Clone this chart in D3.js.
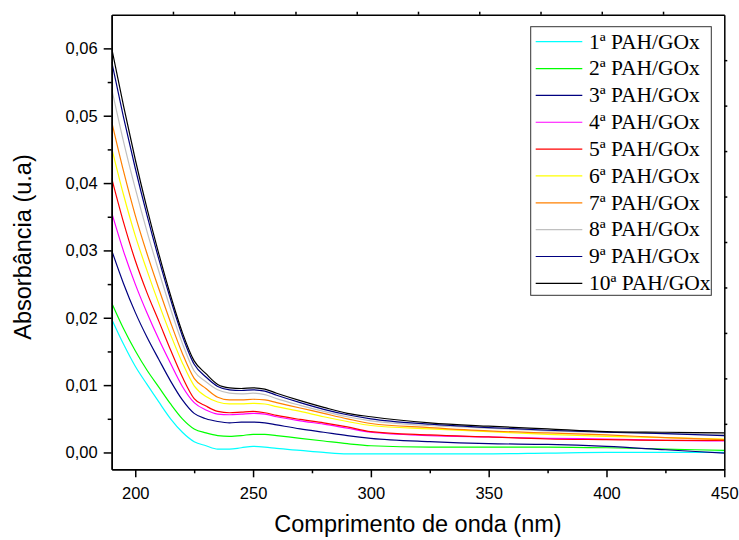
<!DOCTYPE html>
<html>
<head>
<meta charset="utf-8">
<script src="https://cdn.jsdelivr.net/npm/d3@7"></script>
<style>
  html, body { margin: 0; padding: 0; background: #ffffff; }
  svg { display: block; }
</style>
</head>
<body>
<svg id="chart" width="739" height="540"></svg>
<script>
// ---------- data ----------
const wavelengths = [190,195,200,205,210,215,220,225,230,235,240,245,250,255,260,270,280,290,300,325,350,375,400,425,450];

const pahGox1  = [0.0198,0.0161,0.0128,0.0101,0.0075,0.0050,0.0030,0.0016,0.0010,0.0005,0.0005,0.0007,0.0009,0.0008,0.0006,0.0003,0.0000,-0.0002,-0.0002,-0.0002,-0.0002,-0.0001,0.0000,0.0000,0.0000];
const pahGox2  = [0.0222,0.0184,0.0151,0.0122,0.0097,0.0072,0.0050,0.0035,0.0029,0.0025,0.0024,0.0025,0.0027,0.0027,0.0025,0.0021,0.0017,0.0013,0.0010,0.0008,0.0008,0.0008,0.0007,0.0005,0.0003];
const pahGox3  = [0.0300,0.0251,0.0208,0.0171,0.0138,0.0106,0.0078,0.0058,0.0050,0.0046,0.0044,0.0045,0.0045,0.0044,0.0041,0.0035,0.0030,0.0025,0.0021,0.0016,0.0013,0.0012,0.0009,0.0004,-0.0001];
const pahGox4  = [0.0356,0.0299,0.0250,0.0207,0.0168,0.0132,0.0098,0.0074,0.0063,0.0057,0.0056,0.0057,0.0058,0.0057,0.0053,0.0047,0.0042,0.0036,0.0030,0.0025,0.0023,0.0021,0.0020,0.0018,0.0017];
const pahGox5  = [0.0407,0.0342,0.0285,0.0237,0.0195,0.0152,0.0112,0.0080,0.0069,0.0061,0.0059,0.0060,0.0061,0.0059,0.0055,0.0049,0.0044,0.0038,0.0031,0.0026,0.0023,0.0020,0.0019,0.0018,0.0018];
const pahGox6  = [0.0452,0.0383,0.0322,0.0270,0.0221,0.0175,0.0133,0.0099,0.0083,0.0075,0.0072,0.0072,0.0073,0.0072,0.0068,0.0061,0.0053,0.0046,0.0040,0.0035,0.0031,0.0027,0.0024,0.0022,0.0020];
const pahGox7  = [0.0491,0.0418,0.0352,0.0295,0.0243,0.0193,0.0147,0.0110,0.0095,0.0082,0.0078,0.0078,0.0079,0.0078,0.0074,0.0066,0.0058,0.0050,0.0043,0.0037,0.0032,0.0029,0.0026,0.0022,0.0019];
const pahGox8  = [0.0540,0.0462,0.0392,0.0328,0.0269,0.0213,0.0162,0.0121,0.0105,0.0093,0.0088,0.0087,0.0088,0.0086,0.0080,0.0070,0.0061,0.0053,0.0047,0.0040,0.0036,0.0032,0.0030,0.0028,0.0027];
const pahGox9  = [0.0580,0.0498,0.0422,0.0352,0.0287,0.0227,0.0173,0.0131,0.0112,0.0098,0.0093,0.0092,0.0093,0.0091,0.0085,0.0074,0.0064,0.0056,0.0050,0.0042,0.0037,0.0033,0.0030,0.0028,0.0025];
const pahGox10 = [0.0600,0.0515,0.0435,0.0362,0.0295,0.0233,0.0178,0.0136,0.0117,0.0101,0.0096,0.0095,0.0096,0.0094,0.0088,0.0077,0.0067,0.0058,0.0053,0.0044,0.0039,0.0035,0.0031,0.0030,0.0029];

const seriesLabels = ["1ª PAH/GOx","2ª PAH/GOx","3ª PAH/GOx","4ª PAH/GOx","5ª PAH/GOx","6ª PAH/GOx","7ª PAH/GOx","8ª PAH/GOx","9ª PAH/GOx","10ª PAH/GOx"];
const seriesValues = [pahGox1,pahGox2,pahGox3,pahGox4,pahGox5,pahGox6,pahGox7,pahGox8,pahGox9,pahGox10];
const seriesColors = ["#00FFFF","#00FF00","#000080","#FF00FF","#FF0000","#FFFF00","#FF8000","#C0C0C0","#000080","#000000"];

const xTickValues = [200,250,300,350,400,450];
const xMinorTicks = [225,275,325,375,425];
const yTickValues = [0.00,0.01,0.02,0.03,0.04,0.05,0.06];
const yMinorTicks = [0.005,0.015,0.025,0.035,0.045,0.055];
const xTitle = "Comprimento de onda (nm)";
const yTitle = "Absorbância (u.a)";

// ---------- layout ----------
const svg = d3.select("#chart");
const L = 111.7, R = 724.3, T = 14.7, B = 469.3;
const x = d3.scaleLinear().domain([190, 450]).range([L, R]);
const y = d3.scaleLinear().domain([-0.0025, 0.065]).range([B, T]);
const sans = "'Liberation Sans', Arial, sans-serif";
const serif = "'Liberation Serif', 'Times New Roman', serif";

svg.append("defs").append("clipPath").attr("id", "clip")
  .append("rect").attr("x", L).attr("y", T).attr("width", R - L).attr("height", B - T);

// lines
const line = d3.line()
  .x((d, i) => x(wavelengths[i]))
  .y(d => y(d))
  .curve(d3.curveMonotoneX);

const g = svg.append("g").attr("clip-path", "url(#clip)");
seriesValues.forEach((vals, k) => {
  g.append("path")
    .attr("d", line(vals))
    .attr("fill", "none")
    .attr("stroke", seriesColors[k])
    .attr("stroke-width", 1.2);
});

// axes
const fmt = d => d3.format(".2f")(d).replace(".", ",");
const xAxis = svg.append("g").attr("transform", `translate(0,${B})`)
  .call(d3.axisBottom(x).tickValues(xTickValues).tickSize(8).tickSizeOuter(0).tickPadding(10));
const xMinor = svg.append("g").attr("transform", `translate(0,${B})`)
  .call(d3.axisBottom(x).tickValues(xMinorTicks).tickSize(4).tickSizeOuter(0).tickFormat(""));
const yAxis = svg.append("g").attr("transform", `translate(${L},0)`)
  .call(d3.axisLeft(y).tickValues(yTickValues).tickSize(8).tickSizeOuter(0).tickPadding(6).tickFormat(fmt));
const yMinor = svg.append("g").attr("transform", `translate(${L},0)`)
  .call(d3.axisLeft(y).tickValues(yMinorTicks).tickSize(4).tickSizeOuter(0).tickFormat(""));

// top/right axes with 10 equal divisions
const topScale = d3.scaleLinear().domain([0, 10]).range([L, R]);
const rightScale = d3.scaleLinear().domain([0, 10]).range([B, T]);
const topAxis = svg.append("g").attr("transform", `translate(0,${T})`)
  .call(d3.axisTop(topScale).tickValues(d3.range(1, 10)).tickSize(3).tickSizeOuter(0).tickFormat(""));
const rightAxis = svg.append("g").attr("transform", `translate(${R},0)`)
  .call(d3.axisRight(rightScale).tickValues(d3.range(1, 10)).tickSize(3).tickSizeOuter(0).tickFormat(""));

[xAxis, xMinor, yAxis, yMinor, topAxis, rightAxis].forEach(a => {
  a.selectAll("path").attr("stroke", "#000").attr("stroke-width", 1.5);
  a.selectAll("line").attr("stroke", "#000").attr("stroke-width", 1.5);
  a.selectAll("text").attr("fill", "#000").style("font-family", sans).style("font-size", "16.5px");
});

// axis titles
svg.append("text")
  .attr("x", (L + R) / 2).attr("y", 532)
  .attr("text-anchor", "middle")
  .style("font-family", sans).style("font-size", "23.5px").attr("fill", "#000")
  .text(xTitle);
svg.append("text")
  .attr("transform", `translate(31,247) rotate(-90)`)
  .attr("text-anchor", "middle")
  .style("font-family", sans).style("font-size", "23.5px").attr("fill", "#000")
  .text(yTitle);

// legend
const lg = svg.append("g");
lg.append("rect")
  .attr("x", 530.7).attr("y", 26.7).attr("width", 180.6).attr("height", 268.6)
  .attr("fill", "#fff").attr("stroke", "#333").attr("stroke-width", 1);
seriesLabels.forEach((lab, k) => {
  const yy = 41.7 + k * 26.85;
  lg.append("line").attr("x1", 535.7).attr("x2", 582.3).attr("y1", yy).attr("y2", yy)
    .attr("stroke", seriesColors[k]).attr("stroke-width", 1.2);
  lg.append("text").attr("x", 589).attr("y", yy + 6.8)
    .style("font-family", serif).style("font-size", "21.5px").attr("fill", "#000")
    .text(lab);
});
</script>
</body>
</html>
